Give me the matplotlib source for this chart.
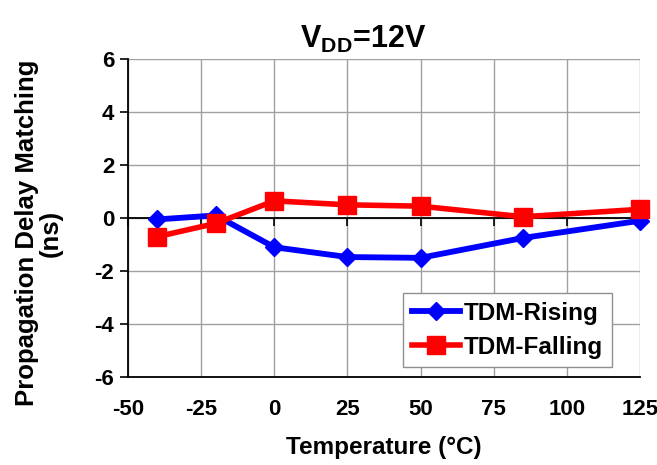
import matplotlib
matplotlib.use("Agg")
import matplotlib.pyplot as plt

plt.rcParams['font.family'] = ['Liberation Sans', 'DejaVu Sans']
plt.rcParams['font.weight'] = 'bold'
plt.rcParams['axes.unicode_minus'] = False
plt.rcParams['mathtext.fontset'] = 'custom'
plt.rcParams['mathtext.rm'] = 'Liberation Sans:bold'
plt.rcParams['mathtext.bf'] = 'Liberation Sans:bold'

# temperature sweep (degC) and delay matching (ns)
temps = [-40, -20, 0, 25, 50, 85, 125]
tdm_rising = [-0.05, 0.1, -1.1, -1.47, -1.5, -0.75, -0.1]
tdm_falling = [-0.7, -0.2, 0.65, 0.5, 0.45, 0.05, 0.33]

x_ticks = [-50, -25, 0, 25, 50, 75, 100, 125]
y_ticks = [-6, -4, -2, 0, 2, 4, 6]

fig = plt.figure(figsize=(6.57, 4.65), dpi=100)
ax = fig.add_axes([0.195, 0.189, 0.779, 0.684])

ax.set_xlim(-50, 125)
ax.set_ylim(-6, 6)
ax.set_xticks(x_ticks)
ax.set_yticks(y_ticks)
ax.grid(True, color='#a0a0a0', linewidth=1.0)
ax.set_axisbelow(True)
for side in ['top', 'right']:
    ax.spines[side].set_visible(False)
for side in ['left', 'bottom']:
    ax.spines[side].set_color('black')
    ax.spines[side].set_linewidth(1.3)
ax.tick_params(axis='x', length=0, labelsize=16, pad=16)
ax.tick_params(axis='y', length=6, width=1.2, direction='out', labelsize=16, pad=4)

# x axis crosses at zero, with its own ticks
ax.axhline(0, color='black', linewidth=1.3, zorder=2)
ax.plot(x_ticks, [0] * len(x_ticks), linestyle='none', marker=3,
        markersize=6, markeredgewidth=1.2, color='black', zorder=2, clip_on=False)

ax.plot(temps, tdm_rising, color='#0000ff', linewidth=4.2, marker='D',
        markersize=9, label='TDM-Rising', zorder=3, clip_on=False)
ax.plot(temps, tdm_falling, color='#ff0000', linewidth=4.0, marker='s',
        markersize=13, label='TDM-Falling', zorder=4, clip_on=False)

ax.set_title(r'$\mathbf{V_{DD}}$=12V', fontsize=22, fontweight='bold', pad=8, x=0.46)
ax.set_xlabel('Temperature (°C)', fontsize=17.5, fontweight='bold', labelpad=11)
ax.set_ylabel('Propagation Delay Matching\n(ns)', fontsize=18.5, fontweight='bold',
              linespacing=1.0)
ax.yaxis.set_label_coords(-0.128, 0.453)

leg = ax.legend(loc='lower right', bbox_to_anchor=(0.945, 0.031), fontsize=17.5,
                fancybox=False, framealpha=1, edgecolor='#909090',
                handlelength=2.0, handletextpad=0.15, borderpad=0.35, labelspacing=0.45,
                borderaxespad=0)
leg.get_frame().set_linewidth(1.0)

fig.savefig('out.png', dpi=100)
